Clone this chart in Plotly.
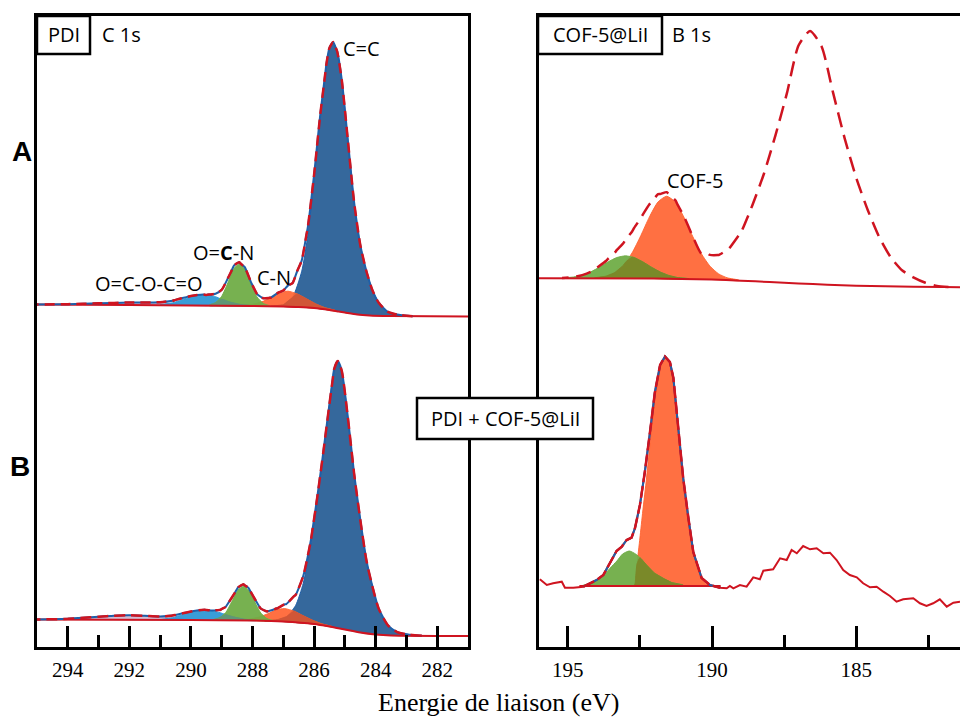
import numpy as np
import plotly.graph_objects as go

# ---------------- C 1s, spectre A (PDI) : eV / intensité (u.a.) ----------------
c1s_a_bg_ev = [295, 292, 290, 288, 287, 286.5, 286, 285.5, 285.2, 285, 284.6, 284.2, 283.5, 281]
c1s_a_bg = [342.5, 342, 341.5, 341, 340.5, 340, 339, 337, 335.5, 334.5, 332.5, 331.5, 331, 330.5]

c1s_a_cc_ev = [287.4, 287.0, 286.7, 286.4, 286.2, 286.0, 285.8, 285.6, 285.5, 285.38, 285.25,
               285.1, 284.9, 284.7, 284.5, 284.3, 284.1, 283.9, 283.6, 283.2, 282.8]
c1s_a_cc = [0, 1.7, 9.4, 36, 73, 128, 191, 244, 261, 268, 260, 232, 172, 112, 70, 44, 25, 13, 4, 1, 0]

c1s_a_cn_ev = [288.3, 288.0, 287.7, 287.4, 287.15, 286.85, 286.55, 286.25, 285.95, 285.65, 285.3]
c1s_a_cn = [0.5, 1.7, 4.3, 8.7, 13, 15.5, 13, 8.7, 4.3, 1.7, 0.4]

c1s_a_ocn_ev = [289.4, 289.2, 289.0, 288.8, 288.6, 288.43, 288.25, 288.05, 287.85, 287.65, 287.45]
c1s_a_ocn = [0.6, 3, 9.5, 23, 37.5, 42, 37, 22, 9, 2.8, 0.5]

c1s_a_anh_ev = [291.0, 290.6, 290.3, 290.0, 289.8, 289.6, 289.4, 289.2, 289.0, 288.7, 288.4, 288.0]
c1s_a_anh = [0.5, 2.5, 5.5, 8.5, 10, 11, 10.5, 9, 6.5, 3.5, 1.5, 0.3]

c1s_a_sat_ev = [295, 294, 293, 292, 291, 290.5, 290, 289.5]
c1s_a_sat = [0, 0.5, 1.5, 2.5, 2.5, 2, 1, 0]

# ---------------- C 1s, spectre B (PDI + COF-5@LiI) ----------------
c1s_b_bg_ev = [295, 290, 288, 287, 286, 285.5, 285, 284.5, 284, 283.5, 281]
c1s_b_bg = [27.5, 27, 26.5, 25.5, 23, 20.5, 17.5, 14.5, 12.5, 11.5, 11]

c1s_b_cc_ev = [287.6, 287.2, 286.9, 286.6, 286.35, 286.1, 285.9, 285.7, 285.5, 285.35, 285.23,
               285.1, 284.9, 284.7, 284.5, 284.3, 284.1, 283.9, 283.6, 283.3, 282.9, 282.5]
c1s_b_cc = [0, 1.5, 5, 17, 40, 80, 124, 172, 222, 258, 267, 258, 212, 158, 113, 73, 47, 26, 10, 3.5, 1, 0]

c1s_b_cn_ev = [288.4, 288.1, 287.8, 287.5, 287.25, 286.95, 286.65, 286.35, 286.05, 285.75, 285.4]
c1s_b_cn = [0.4, 1.4, 3.6, 7.3, 11.2, 13, 11.2, 7.3, 3.6, 1.4, 0.4]

c1s_b_ocn_ev = [289.27, 289.07, 288.87, 288.67, 288.47, 288.3, 288.13, 287.93, 287.73, 287.53, 287.33]
c1s_b_ocn = [0.5, 2.4, 7.7, 18.8, 30.4, 34, 30.4, 18.8, 7.7, 2.4, 0.5]

c1s_b_anh_ev = [291.0, 290.6, 290.3, 290.0, 289.75, 289.55, 289.35, 289.1, 288.85, 288.55, 288.25, 287.9]
c1s_b_anh = [0.4, 2.3, 5, 7.7, 9.3, 10, 9.5, 8, 5.5, 3, 1.2, 0.3]

c1s_b_sat_ev = [295, 294.5, 294, 293.5, 293, 292.5, 292, 291.5, 291, 290.5, 290, 289.5, 289]
c1s_b_sat = [0, 0.3, 0.8, 1.8, 3, 4, 4.5, 4, 3, 1.8, 0.8, 0.3, 0]

# ---------------- B 1s, spectre A (COF-5@LiI) ----------------
b1s_a_bg_ev = [196, 192, 190, 189, 188, 187, 186, 185, 184, 182, 181.4]
b1s_a_bg = [368.7, 368.5, 367.5, 366.3, 365, 363.5, 362.3, 361.3, 360.7, 360, 359.7]

b1s_a_g_ev = [195.2, 194.8, 194.5, 194.2, 193.9, 193.6, 193.3, 193.0, 192.7, 192.4, 192.1,
              191.8, 191.5, 191.2, 190.8]
b1s_a_g = [0.4, 1.4, 3.3, 6.6, 11.3, 16.6, 20.9, 22.6, 20.9, 16.6, 11.3, 6.6, 3.3, 1.4, 0.4]

b1s_a_cof_ev = [194.07, 193.67, 193.37, 193.07, 192.77, 192.47, 192.17, 191.87, 191.57, 191.27,
                190.97, 190.67, 190.37, 190.07, 189.77, 189.47, 189.07]
b1s_a_cof = [0.5, 2.3, 5.9, 13.3, 25.7, 42.8, 61.6, 76.7, 82.5, 76.7, 61.6, 42.8, 25.7, 13.3, 5.9, 2.3, 0.5]

b1s_a_big_ev = [190.2, 189.8, 189.4, 189.0, 188.6, 188.2, 187.8, 187.4, 187.0, 186.6, 186.2,
                185.8, 185.4, 185.0, 184.6, 184.2, 183.8, 183.4, 183.0, 182.6, 182.2, 181.8]
b1s_a_big = [8, 18, 30, 48, 76, 108, 147, 190, 238, 253, 238, 192, 147, 108, 76, 49, 29, 16, 9, 4, 1, 0]

# ---------------- B 1s, spectre B (PDI + COF-5@LiI), données brutes ----------------
b1s_b_raw_ev = [195.97, 195.73, 195.51, 195.21, 195.10, 194.81, 194.46, 194.23, 194.00, 193.77,
                193.54, 193.31, 193.13, 192.96, 192.79, 192.67, 192.50, 192.33, 192.15, 191.98,
                191.80, 191.63, 191.46, 191.34, 191.17, 191.00, 190.82, 190.65, 190.36, 190.07,
                189.72, 189.49, 189.38, 189.26, 189.03, 188.80, 188.57, 188.34, 188.22, 187.88,
                187.64, 187.41, 187.24, 187.06, 186.84, 186.60, 186.37, 186.14, 185.91, 185.68,
                185.45, 185.22, 184.98, 184.76, 184.52, 184.29, 184.06, 183.83, 183.60, 183.37,
                183.02, 182.79, 182.56, 182.33, 182.10, 181.86, 181.63, 181.40]
b1s_b_raw = [67.7, 62, 63.7, 65.3, 59.3, 59.3, 60.3, 63.7, 67, 72,
             84, 96, 100.3, 107, 109.3, 119, 142, 175, 215, 255,
             282, 290.5, 285, 269, 219, 169, 129, 95, 69, 62,
             59.3, 58.7, 61, 58.7, 62, 60.3, 69.7, 67.7, 76.3, 77.7,
             88.7, 87, 97, 93.7, 101, 97.7, 98.7, 93.7, 94.3, 87,
             77, 72, 69.7, 63.7, 59.7, 60.3, 55.3, 51, 45.3, 47.7,
             48.7, 43.7, 41, 43.7, 47.7, 40.3, 44.3, 45.3]

b1s_b_bg_ev = [194.6, 189.7]
b1s_b_bg = [61, 61]

b1s_b_g_ev = [194.5, 194.23, 194.0, 193.75, 193.54, 193.3, 193.1, 192.87, 192.65, 192.45, 192.27,
              192.0, 191.69, 191.4, 191.0]
b1s_b_g = [0.5, 2.7, 6, 11, 17.7, 25, 32, 35, 32, 27, 21, 13, 7.7, 3.5, 1]

b1s_b_cof_ev = [192.72, 192.67, 192.6, 192.5, 192.4, 192.27, 192.1, 191.92, 191.78, 191.6, 191.45,
                191.34, 191.17, 191.0, 190.82, 190.65, 190.5, 190.36, 190.19, 190.0]
b1s_b_cof = [0, 2, 22, 48, 75, 108, 156, 201, 220, 229, 220, 208, 158, 108, 68, 34, 17, 8, 2, 0]

RED = "#cf1420"
BLUE_LINE = "#1f5fa8"
CC_FILL = "#35689c"
ANH_FILL = "rgba(46,152,214,0.95)"
OCN_FILL = "rgba(112,173,71,0.95)"
CN_FILL = "rgba(255,100,50,0.92)"
SAT_FILL = "rgba(130,70,130,0.35)"
OLIVE = "rgba(122,135,40,0.95)"
CN_ON_CC = "rgba(205,85,55,0.95)"
OCN_ON_ANH = "rgba(95,150,120,0.95)"


def base_at(ev, bg_ev, bg):
    return np.interp(ev, np.asarray(bg_ev, float)[::-1], np.asarray(bg, float)[::-1])


def band(ev, h, bg_ev, bg):
    ev = np.asarray(ev, float)
    base = base_at(ev, bg_ev, bg)
    top = base + np.asarray(h, float)
    return np.concatenate([ev, ev[::-1]]), np.concatenate([top, base[::-1]])


def comp_at(ev, comp):
    e, h = np.asarray(comp[0], float), np.asarray(comp[1], float)
    return np.interp(ev, e[::-1], h[::-1], left=0, right=0)


def envelope(comps, bg_ev, bg):
    ev = np.unique(np.concatenate([np.asarray(c[0], float) for c in comps]))
    total = base_at(ev, bg_ev, bg)
    for c in comps:
        total = total + comp_at(ev, c)
    return ev, total


def overlap(c1, c2, bg_ev, bg):
    lo = max(min(c1[0]), min(c2[0]))
    hi = min(max(c1[0]), max(c2[0]))
    ev = np.unique(np.concatenate([c1[0], c2[0]]).astype(float))
    ev = ev[(ev >= lo) & (ev <= hi)]
    h = np.minimum(comp_at(ev, c1), comp_at(ev, c2))
    return band(ev, h, bg_ev, bg)


def add_fill(fig, xy, color, axis, edge=None):
    xa, ya = axis
    fig.add_trace(go.Scatter(
        x=xy[0], y=xy[1], mode="lines", fill="toself", fillcolor=color,
        line=dict(color=edge or color, width=1, shape="spline", smoothing=0.6),
        xaxis=xa, yaxis=ya, hoverinfo="skip", showlegend=False,
    ))


def add_line(fig, x, y, color, width, axis, dash="solid", shape="spline"):
    xa, ya = axis
    fig.add_trace(go.Scatter(
        x=x, y=y, mode="lines", line=dict(color=color, width=width, dash=dash, shape=shape, smoothing=0.6),
        xaxis=xa, yaxis=ya, hoverinfo="skip", showlegend=False,
    ))


def c1s_spectrum(fig, bg_ev, bg, cc, cn, ocn, anh, sat, dash):
    ax = ("x", "y")
    add_fill(fig, band(*sat, bg_ev, bg), SAT_FILL, ax)
    add_fill(fig, band(*cc, bg_ev, bg), CC_FILL, ax, edge=BLUE_LINE)
    add_fill(fig, band(*anh, bg_ev, bg), ANH_FILL, ax)
    add_fill(fig, band(*cn, bg_ev, bg), CN_FILL, ax)
    add_fill(fig, overlap(cn, cc, bg_ev, bg), CN_ON_CC, ax)
    add_fill(fig, band(*ocn, bg_ev, bg), OCN_FILL, ax)
    add_fill(fig, overlap(ocn, anh, bg_ev, bg), OCN_ON_ANH, ax)
    add_line(fig, bg_ev, bg, RED, 2, ax)
    ev, tot = envelope([cc, cn, ocn, anh, sat], bg_ev, bg)
    add_line(fig, ev, tot, BLUE_LINE, 2, ax)
    add_line(fig, ev, tot, RED, 2.5, ax, dash=dash)


fig = go.Figure()

c1s_spectrum(fig, c1s_a_bg_ev, c1s_a_bg,
             (c1s_a_cc_ev, c1s_a_cc), (c1s_a_cn_ev, c1s_a_cn), (c1s_a_ocn_ev, c1s_a_ocn),
             (c1s_a_anh_ev, c1s_a_anh), (c1s_a_sat_ev, c1s_a_sat), "10px,6px")
c1s_spectrum(fig, c1s_b_bg_ev, c1s_b_bg,
             (c1s_b_cc_ev, c1s_b_cc), (c1s_b_cn_ev, c1s_b_cn), (c1s_b_ocn_ev, c1s_b_ocn),
             (c1s_b_anh_ev, c1s_b_anh), (c1s_b_sat_ev, c1s_b_sat), "11px,6px")

# B 1s - COF-5@LiI
ax2 = ("x2", "y2")
g_a = (b1s_a_g_ev, b1s_a_g)
cof_a = (b1s_a_cof_ev, b1s_a_cof)
add_fill(fig, band(*cof_a, b1s_a_bg_ev, b1s_a_bg), CN_FILL, ax2)
add_fill(fig, band(*g_a, b1s_a_bg_ev, b1s_a_bg), OCN_FILL, ax2)
add_fill(fig, overlap(g_a, cof_a, b1s_a_bg_ev, b1s_a_bg), OLIVE, ax2)
add_line(fig, b1s_a_bg_ev, b1s_a_bg, RED, 2, ax2)
ev, tot = envelope([g_a, cof_a, (b1s_a_big_ev, b1s_a_big)], b1s_a_bg_ev, b1s_a_bg)
add_line(fig, ev, tot, RED, 2.5, ax2, dash="15px,8px")

# B 1s - PDI + COF-5@LiI
g_b = (b1s_b_g_ev, b1s_b_g)
cof_b = (b1s_b_cof_ev, b1s_b_cof)
add_fill(fig, band(*cof_b, b1s_b_bg_ev, b1s_b_bg), CN_FILL, ax2)
add_fill(fig, band(*g_b, b1s_b_bg_ev, b1s_b_bg), OCN_FILL, ax2)
add_fill(fig, overlap(g_b, cof_b, b1s_b_bg_ev, b1s_b_bg), OLIVE, ax2)
add_line(fig, b1s_b_bg_ev, b1s_b_bg, RED, 2, ax2, shape="linear")
add_line(fig, b1s_b_raw_ev, b1s_b_raw, RED, 2, ax2, shape="linear")
raw_ev = np.array(b1s_b_raw_ev)
raw_i = np.array(b1s_b_raw)
fit = (raw_ev <= 194.5) & (raw_ev >= 189.7)
add_line(fig, raw_ev[fit], raw_i[fit], BLUE_LINE, 2, ax2, shape="linear")
add_line(fig, raw_ev[fit], raw_i[fit], RED, 2.5, ax2, dash="12px,4px", shape="linear")

axis_common = dict(
    showgrid=False, zeroline=False, showline=True, linecolor="black", linewidth=3,
    ticks="inside", ticklen=21, tickwidth=3, tickcolor="black", automargin=False,
    tickfont=dict(family="Liberation Serif", size=21, color="black"),
    ticklabelstandoff=2,
)
y_common = dict(domain=[0, 1], range=[0, 631], showticklabels=False, ticks="", showgrid=False,
                zeroline=False, showline=True, linecolor="black", linewidth=3, automargin=False)
fig.update_layout(
    width=960, height=718,
    margin=dict(l=37, r=0, t=16, b=71, pad=0, autoexpand=False),
    paper_bgcolor="white", plot_bgcolor="white",
    xaxis=dict(domain=[0, 431 / 923], range=[295, 281], tickmode="linear", tick0=282, dtick=2,
               mirror=True,
               minor=dict(ticks="inside", ticklen=12, tickwidth=3, tickcolor="black", tickmode="linear",
                          tick0=281, dtick=1),
               **axis_common),
    yaxis=dict(mirror=True, **y_common),
    xaxis2=dict(domain=[502 / 923, 1], range=[196, 181.4], anchor="y2", tickmode="linear", tick0=180,
                dtick=5, mirror=True,
                minor=dict(ticks="inside", ticklen=12, tickwidth=3, tickcolor="black", tickmode="linear",
                           tick0=182.5, dtick=5),
                **axis_common),
    yaxis2=dict(anchor="x2", mirror=False, **y_common),
)

label_font = dict(family="Open Sans", size=20, color="black")
boxes = [(0, 0.9398, 53 / 923, 1), (501 / 923, 0.9398, 625 / 923, 1), (380 / 923, 0.3296, 556 / 923, 0.3946)]
for x0, y0, x1, y1 in boxes:
    fig.add_shape(type="rect", xref="paper", yref="paper", x0=x0, y0=y0, x1=x1, y1=y1,
                  line=dict(color="black", width=2.5), fillcolor="white", layer="above")

texts = [
    ("PDI", 26.5 / 923, 0.9699, "center"),
    ("C 1s", 63 / 923, 0.9699, "left"),
    ("COF-5@LiI", 563 / 923, 0.9699, "center"),
    ("B 1s", 633 / 923, 0.9699, "left"),
    ("PDI + COF-5@LiI", 468 / 923, 0.3621, "center"),
]
for t, x, y, anchor in texts:
    fig.add_annotation(text=t, x=x, y=y, xref="paper", yref="paper", showarrow=False,
                       xanchor=anchor, yanchor="middle", font=label_font)

peak_labels = [
    ("C=C", 285.13, 599, "left", "x", "y"),
    ("O=<b>C</b>-N", 288.93, 395, "center", "x", "y"),
    ("C-N", 287.30, 370, "center", "x", "y"),
    ("O=C-O-C=O", 291.36, 364, "center", "x", "y"),
    ("COF-5", 190.59, 467, "center", "x2", "y2"),
]
for t, x, y, anchor, xr, yr in peak_labels:
    fig.add_annotation(text=t, x=x, y=y, xref=xr, yref=yr, showarrow=False,
                       xanchor=anchor, yanchor="middle", font=label_font)

for t, x, y in [("A", -15 / 923, 0.7845), ("B", -17 / 923, 0.2868)]:
    fig.add_annotation(text="<b>%s</b>" % t, x=x, y=y, xref="paper", yref="paper", showarrow=False,
                       xanchor="center", yanchor="middle",
                       font=dict(family="Liberation Sans", size=28, color="black"))

fig.add_annotation(text="Energie de liaison (eV)", x=461 / 923, y=-0.0872, xref="paper", yref="paper",
                   showarrow=False, xanchor="center", yanchor="middle",
                   font=dict(family="Liberation Serif", size=26, color="black"))

# la page par défaut ajoute une marge de 8 px autour du graphique
fig.write_html("out.html", config={"displayModeBar": False},
               post_script="document.body.style.margin='0';")
